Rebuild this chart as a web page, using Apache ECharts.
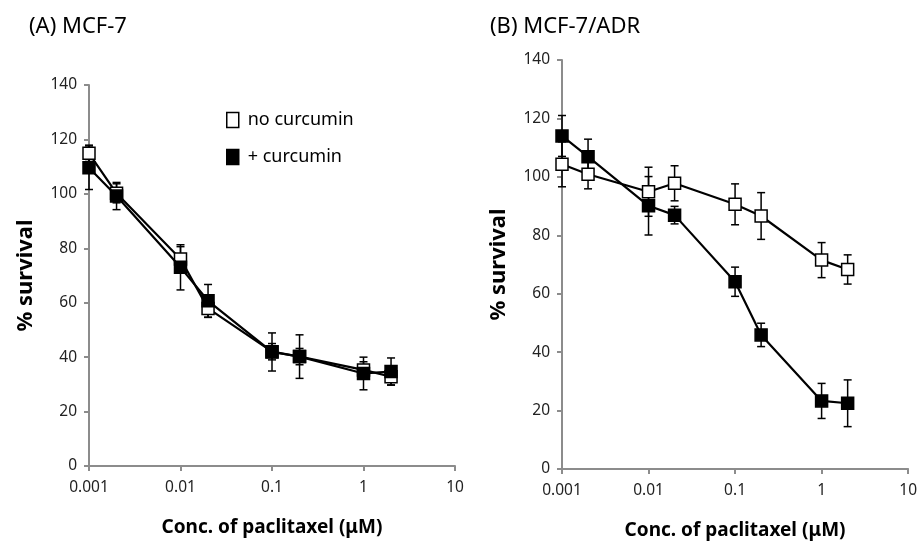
<!DOCTYPE html>
<html><head><meta charset="utf-8">
<script src="https://cdn.jsdelivr.net/npm/echarts@6/dist/echarts.min.js"></script>
<style>html,body{margin:0;padding:0;background:#fff}#c{width:920px;height:547px}</style>
</head><body><div id="c"></div>
<script>
const conc = [0.001, 0.002, 0.01, 0.02, 0.1, 0.2, 1, 2];
const xTickLabels = ['0.001', '0.01', '0.1', '1', '10'];
const yTicks = [0, 20, 40, 60, 80, 100, 120, 140];

// Panel A: MCF-7
const aNoCur = [114.9, 100.2, 76.1, 57.9, 42.0, 40.2, 35.3, 32.8];
const aNoCurErr = [3, 3.5, 4.5, 3.3, 3, 3, 3, 3];
const aCur = [109.6, 99.2, 73.0, 60.7, 41.9, 40.2, 34.0, 34.7];
const aCurErr = [8, 5, 8.3, 6, 7, 8, 6, 5];

// Panel B: MCF-7/ADR
const bNoCur = [104.3, 100.9, 94.9, 97.8, 90.6, 86.6, 71.5, 68.3];
const bNoCurErr = [7.7, 5, 8.4, 6, 7, 8, 6, 5];
const bCur = [114.0, 106.9, 90.1, 86.9, 64.1, 45.9, 23.3, 22.5];
const bCurErr = [7, 6, 10, 3, 5, 4, 6, 8];

const titles = ['(A) MCF-7', '(B) MCF-7/ADR'];
const legendNames = ['no curcumin', '+ curcumin'];

const FONT = '"Noto Sans", "Open Sans", sans-serif';
const axisGray = '#8c8c8c';

function pairs(vals) { return conc.map((c, i) => [c, vals[i]]); }
function errData(vals, errs) { return conc.map((c, i) => [c, vals[i] - errs[i], vals[i] + errs[i]]); }

function errSeries(vals, errs, idx) {
  return {
    type: 'custom', xAxisIndex: idx, yAxisIndex: idx, z: 1, silent: true,
    data: errData(vals, errs),
    renderItem: function (params, api) {
      const lo = api.coord([api.value(0), api.value(1)]);
      const hi = api.coord([api.value(0), api.value(2)]);
      const w = 4;
      const st = { stroke: '#000', lineWidth: 1.5 };
      return { type: 'group', children: [
        { type: 'line', shape: { x1: lo[0], y1: lo[1], x2: hi[0], y2: hi[1] }, style: st },
        { type: 'line', shape: { x1: lo[0] - w, y1: lo[1], x2: lo[0] + w, y2: lo[1] }, style: st },
        { type: 'line', shape: { x1: hi[0] - w, y1: hi[1], x2: hi[0] + w, y2: hi[1] }, style: st }
      ]};
    }
  };
}

function lineSeries(name, vals, idx, filled) {
  return {
    name: name, type: 'line', xAxisIndex: idx, yAxisIndex: idx, z: filled ? 4 : 3,
    data: pairs(vals), symbol: 'rect', symbolSize: 12, showSymbol: true,
    lineStyle: { color: '#000', width: 2.2 },
    itemStyle: { color: filled ? '#000' : '#fff', borderColor: '#000', borderWidth: 1.5 },
    emphasis: { disabled: true }, animation: false
  };
}

function xAxis(idx) {
  return {
    gridIndex: idx, type: 'log', logBase: 10, min: 0.001, max: 10,
    name: 'Conc. of paclitaxel (μM)', nameLocation: 'middle', nameGap: 52,
    nameTextStyle: { fontFamily: FONT, fontSize: 19, fontWeight: 'bold', color: '#000' },
    axisLine: { show: true, onZero: false, lineStyle: { color: axisGray, width: 2 } },
    axisTick: { show: true, length: 5, inside: false, lineStyle: { color: axisGray, width: 2 } },
    minorTick: { show: false },
    splitLine: { show: false },
    axisLabel: {
      fontFamily: FONT, fontSize: 15.5, color: '#222', margin: 14,
      formatter: function (v) {
        const k = Math.round(Math.log10(v)) + 3;
        return xTickLabels[k] !== undefined ? xTickLabels[k] : '';
      }
    }
  };
}

function yAxis(idx) {
  return {
    gridIndex: idx, type: 'value', min: yTicks[0], max: yTicks[yTicks.length - 1], interval: 20,
    name: '% survival', nameLocation: 'middle', nameGap: 52,
    nameTextStyle: { fontFamily: FONT, fontSize: 22, fontWeight: 'bold', color: '#000' },
    axisLine: { show: true, lineStyle: { color: axisGray, width: 2 } },
    axisTick: { show: true, length: 5, lineStyle: { color: axisGray, width: 2 } },
    splitLine: { show: false },
    axisLabel: { fontFamily: FONT, fontSize: 15.5, color: '#222', margin: 12 }
  };
}

const chart = echarts.init(document.getElementById('c'), null, { renderer: 'canvas' });
chart.setOption({
  animation: false,
  backgroundColor: '#fff',
  title: [
    { text: titles[0], left: 24, top: 11, textStyle: { fontFamily: FONT, fontSize: 22, fontWeight: 'normal', color: '#000' } },
    { text: titles[1], left: 485, top: 11, textStyle: { fontFamily: FONT, fontSize: 22, fontWeight: 'normal', color: '#000' } }
  ],
  legend: {
    left: 221, top: 106, orient: 'vertical', itemGap: 19, itemWidth: 12, itemHeight: 15,
    data: [
      { name: legendNames[0], icon: 'rect', itemStyle: { color: '#fff', borderColor: '#000', borderWidth: 1.5 } },
      { name: legendNames[1], icon: 'rect', itemStyle: { color: '#000', borderColor: '#000', borderWidth: 1.5 } }
    ],
    textStyle: { fontFamily: FONT, fontSize: 18, color: '#000', padding: [0, 0, 0, 4] },
    selectedMode: false
  },
  grid: [
    { left: 89, right: 465, top: 85, bottom: 81 },
    { left: 562, right: 10, top: 60, bottom: 78 }
  ],
  xAxis: [xAxis(0), xAxis(1)],
  yAxis: [yAxis(0), yAxis(1)],
  series: [
    errSeries(aNoCur, aNoCurErr, 0),
    errSeries(aCur, aCurErr, 0),
    lineSeries(legendNames[0], aNoCur, 0, false),
    lineSeries(legendNames[1], aCur, 0, true),
    errSeries(bNoCur, bNoCurErr, 1),
    errSeries(bCur, bCurErr, 1),
    lineSeries(legendNames[0], bNoCur, 1, false),
    lineSeries(legendNames[1], bCur, 1, true)
  ]
});
</script></body></html>
